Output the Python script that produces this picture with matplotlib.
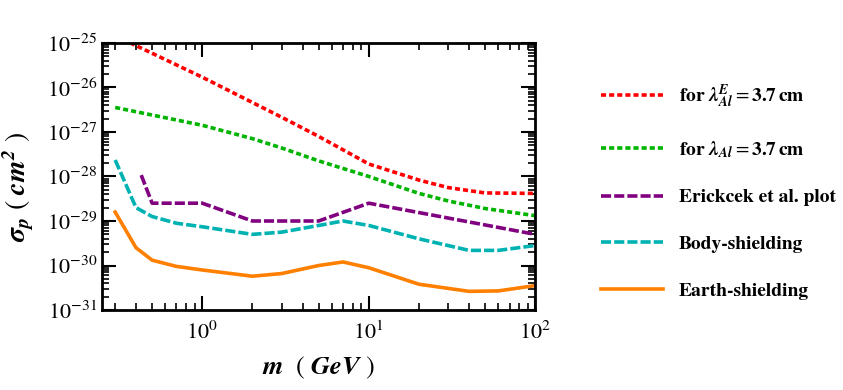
import numpy as np
import matplotlib
matplotlib.use('Agg')
import matplotlib.pyplot as plt
from matplotlib.ticker import FixedLocator, LogLocator, NullFormatter

plt.rcParams['font.family'] = 'STIXGeneral'
plt.rcParams['mathtext.fontset'] = 'custom'
plt.rcParams['mathtext.rm'] = 'STIXGeneral'
plt.rcParams['mathtext.it'] = 'STIXGeneral:italic'
plt.rcParams['mathtext.bf'] = 'STIXGeneral:bold'
plt.rcParams['mathtext.bfit'] = 'STIXGeneral:italic:bold'
plt.rcParams['mathtext.fallback'] = 'stix'

# dark matter mass (GeV) and log10 of cross section (cm^2)
m_red = [0.30, 0.37, 1.0, 3.0, 5.0, 10.0, 20.0, 30.0, 50.0, 100.0]
s_red = [-24.85, -25.0, -25.77, -26.67, -27.1, -27.72, -28.08, -28.25, -28.37, -28.38]

m_green = [0.30, 0.5, 1.0, 2.0, 3.0, 5.0, 10.0, 20.0, 30.0, 50.0, 100.0]
s_green = [-26.45, -26.62, -26.85, -27.15, -27.36, -27.65, -28.0, -28.38, -28.55, -28.72, -28.88]

m_purple = [0.43, 0.5, 1.0, 2.0, 5.0, 10.0, 100.0]
s_purple = [-27.97, -28.6, -28.6, -29.0, -29.0, -28.6, -29.3]

m_cyan = [0.30, 0.4, 0.5, 0.7, 1.0, 2.0, 3.0, 5.0, 7.0, 10.0, 20.0, 40.0, 60.0, 100.0]
s_cyan = [-27.63, -28.7, -28.9, -29.05, -29.13, -29.3, -29.25, -29.1, -29.0, -29.1, -29.4, -29.66, -29.66, -29.55]

m_orange = [0.30, 0.4, 0.5, 0.7, 1.0, 2.0, 3.0, 5.0, 7.0, 10.0, 20.0, 40.0, 60.0, 100.0]
s_orange = [-28.8, -29.6, -29.88, -30.02, -30.1, -30.24, -30.18, -30.0, -29.92, -30.05, -30.42, -30.58, -30.57, -30.45]

labels = [r'for $\mathbfit{\lambda^{E}_{Al}}=\mathbf{3.7}\,$cm',
          r'for $\mathbfit{\lambda_{Al}}=\mathbf{3.7}\,$cm',
          'Erickcek et al. plot',
          'Body-shielding',
          'Earth-shielding']
yticks = [10.0 ** k for k in range(-31, -24)]

fig = plt.figure(figsize=(8.43, 3.9), dpi=100)
ax = fig.add_axes([0.121, 0.205, 0.514, 0.685])

p = lambda s: 10.0 ** np.array(s)
lw = 2.6
dot = (1.4, 0.85)
dash = (2.8, 0.85)
lines = []
lines += ax.plot(m_red, p(s_red), color='#ff0000', lw=lw, dashes=dot)
lines += ax.plot(m_green, p(s_green), color='#00b400', lw=lw, dashes=dot)
lines += ax.plot(m_purple, p(s_purple), color='#800080', lw=lw, dashes=dash)
lines += ax.plot(m_cyan, p(s_cyan), color='#00b2b2', lw=lw, dashes=dash)
lines += ax.plot(m_orange, p(s_orange), color='#ff8000', lw=lw)

ax.set_xscale('log')
ax.set_yscale('log')
ax.set_xlim(0.25, 100)
ax.set_ylim(1e-31, 1e-25)
ax.yaxis.set_major_locator(FixedLocator(yticks))
ax.yaxis.set_minor_locator(LogLocator(base=10, subs=np.arange(2, 10), numticks=100))
ax.yaxis.set_minor_formatter(NullFormatter())
ax.tick_params(which='both', direction='in', top=True, right=True, labelsize=16)
ax.tick_params(which='major', length=10, width=1.5)
ax.tick_params(which='minor', length=5, width=1.2)
ax.tick_params(axis='x', pad=8)
for s in ax.spines.values():
    s.set_linewidth(2)

ax.set_xlabel(r'$\mathbfit{m}\ \ (\ \mathbfit{GeV}\ )$', fontsize=19, labelpad=8)
ax.set_ylabel(r'$\mathbfit{\sigma_p}\ (\ \mathbfit{cm^2}\ )$', fontsize=20)
ax.yaxis.set_label_coords(-0.152, 0.46)

leg = fig.legend(lines, labels, loc='center left', bbox_to_anchor=(0.692, 0.51),
                 frameon=False, handlelength=3.2, labelspacing=1.5, handletextpad=0.8,
                 prop={'family': 'STIXGeneral', 'weight': 'bold', 'size': 14})

fig.savefig('out.png', dpi=100)
